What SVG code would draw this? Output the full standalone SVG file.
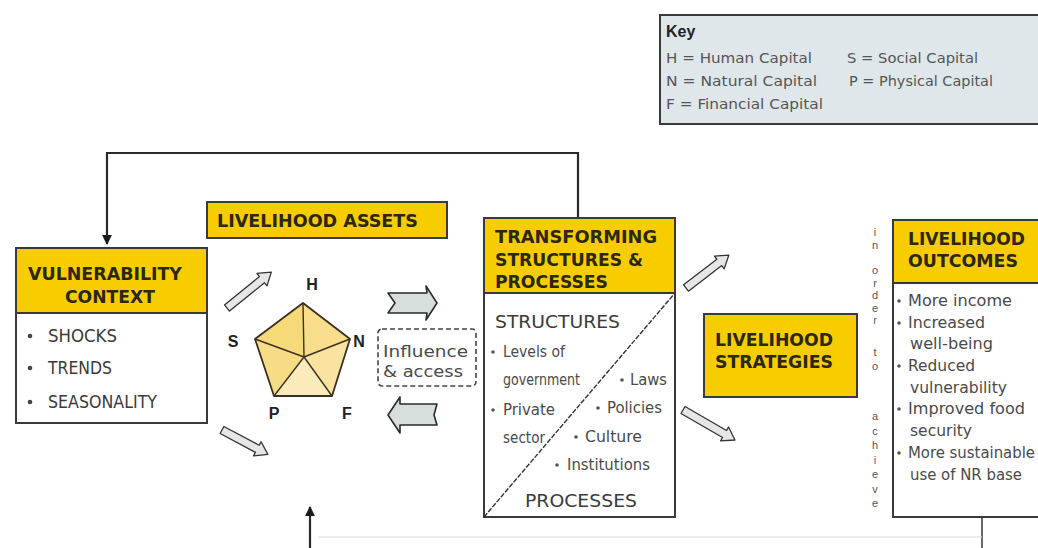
<svg xmlns="http://www.w3.org/2000/svg" width="1038" height="548" viewBox="0 0 1038 548">
<defs>
<style>
.box{fill:#fff;stroke:#3a3a3a;stroke-width:2}
.hdr{fill:#f8cd00;stroke:#3a3a3a;stroke-width:2}
.ht{font-family:"Liberation Sans Narrow","DejaVu Sans Condensed","Liberation Sans",sans-serif;font-weight:bold;font-size:18px;fill:#2b2710}
.it{font-family:"Liberation Sans Narrow","DejaVu Sans Condensed","Liberation Sans",sans-serif;font-size:15px;fill:#4a4a4a}
.vc{font-family:"Liberation Sans Narrow","DejaVu Sans Condensed","Liberation Sans",sans-serif;font-size:17px;fill:#3a3a3a}
.lab{font-family:"Liberation Sans","Arial",sans-serif;font-weight:bold;font-size:16px;fill:#222}
.key{font-family:"Liberation Sans Narrow","DejaVu Sans Condensed","Liberation Sans",sans-serif;font-size:14px;fill:#555}
.vt{font-family:"Liberation Sans","Arial",sans-serif;font-size:11px;fill:#555;writing-mode:vertical-rl;text-orientation:upright}
.line{fill:none;stroke:#2a2a2a;stroke-width:2.2}
.hollow{fill:#e6e6e6;stroke:#333;stroke-width:1.3;stroke-linejoin:round}
.block{fill:#d6dfdc;stroke:#2a2a2a;stroke-width:1.6;stroke-linejoin:round}
</style>
<marker id="ah" viewBox="0 0 10 10" refX="9" refY="5" markerWidth="4.5" markerHeight="4.5" orient="auto">
<path d="M0,0 L10,5 L0,10 Z" fill="#1a1a1a"/>
</marker>
</defs>
<rect width="1038" height="548" fill="#fff"/>

<!-- Key -->
<g id="key">
<rect x="660" y="15" width="390" height="109" fill="#dfe7ea" stroke="#3a3a3a" stroke-width="2"/>
<text x="666" y="37" class="lab" font-size="18" fill="#222">Key</text>
<text x="666" y="63" class="key" textLength="146" lengthAdjust="spacingAndGlyphs">H = Human Capital</text>
<text x="666" y="86" class="key" textLength="151" lengthAdjust="spacingAndGlyphs">N = Natural Capital</text>
<text x="666" y="109" class="key" textLength="157" lengthAdjust="spacingAndGlyphs">F = Financial Capital</text>
<text x="847" y="63" class="key" textLength="131" lengthAdjust="spacingAndGlyphs">S = Social Capital</text>
<text x="849" y="86" class="key" textLength="144" lengthAdjust="spacingAndGlyphs">P = Physical Capital</text>
</g>

<!-- Connectors -->
<g id="connectors">
<polyline class="line" points="578,218 578,153 107,153 107,244" marker-end="url(#ah)"/>
<line class="line" x1="310" y1="548" x2="310" y2="507" marker-end="url(#ah)"/>
<line x1="982" y1="517" x2="982" y2="548" stroke="#444" stroke-width="1.6"/>
<line x1="318" y1="537" x2="982" y2="537" stroke="#dcdcdc" stroke-width="1.2"/>
<g transform="translate(227,308) rotate(-39)">
<path class="hollow" d="M0,-4 L45,-4 L45,-8 L57,0 L45,8 L45,4 L0,4 Z"/>
</g>
<g transform="translate(222,430) rotate(28)">
<path class="hollow" d="M0,-4 L40,-4 L40,-8 L52,0 L40,8 L40,4 L0,4 Z"/>
</g>
<g transform="translate(686,288) rotate(-37.5)">
<path class="hollow" d="M0,-4 L42,-4 L42,-8 L54,0 L42,8 L42,4 L0,4 Z"/>
</g>
<g transform="translate(683,410) rotate(30)">
<path class="hollow" d="M0,-4 L48,-4 L48,-8 L60,0 L48,8 L48,4 L0,4 Z"/>
</g>
<path class="block" d="M388,293 L427,293 L426,286 L437,303 L426,320 L427,313 L388,313 L395,303 Z"/>
<path class="block" d="M388,415 L400,397 L400,404 L437,404 L434,415 L437,425 L400,425 L400,433 Z"/>
</g>

<!-- Vulnerability context -->
<g id="vulnerability">
<rect class="box" x="16" y="248" width="191" height="175"/>
<rect class="hdr" x="16" y="248" width="191" height="65"/>
<text x="105" y="280" class="ht" font-size="19" text-anchor="middle" textLength="154" lengthAdjust="spacingAndGlyphs">VULNERABILITY</text>
<text x="110" y="303" class="ht" font-size="19" text-anchor="middle" textLength="90" lengthAdjust="spacingAndGlyphs">CONTEXT</text>
<circle cx="30" cy="336" r="2.3" fill="#444"/>
<circle cx="30" cy="368" r="2.3" fill="#444"/>
<circle cx="30" cy="402" r="2.3" fill="#444"/>
<text x="48" y="342" class="vc" textLength="69" lengthAdjust="spacingAndGlyphs">SHOCKS</text>
<text x="48" y="374" class="vc" textLength="64" lengthAdjust="spacingAndGlyphs">TRENDS</text>
<text x="48" y="408" class="vc" textLength="109" lengthAdjust="spacingAndGlyphs">SEASONALITY</text>
</g>

<!-- Livelihood assets -->
<g id="assets">
<rect class="hdr" x="207" y="202" width="240" height="36"/>
<text x="217" y="227" class="ht" font-size="21" textLength="201" lengthAdjust="spacingAndGlyphs">LIVELIHOOD ASSETS</text>
<polygon points="304,357 303,303 255,339" fill="#f6d978"/>
<polygon points="304,357 303,303 350,339" fill="#f8de8a"/>
<polygon points="304,357 350,339 332,396" fill="#f9e3a0"/>
<polygon points="304,357 332,396 274,396" fill="#fbebbb"/>
<polygon points="304,357 274,396 255,339" fill="#f7dc86"/>
<polygon points="303,303 350,339 332,396 274,396 255,339" fill="none" stroke="#3a3020" stroke-width="1.8" stroke-linejoin="round"/>
<g stroke="#3a3020" stroke-width="1.4">
<line x1="304" y1="357" x2="303" y2="303"/>
<line x1="304" y1="357" x2="350" y2="339"/>
<line x1="304" y1="357" x2="332" y2="396"/>
<line x1="304" y1="357" x2="274" y2="396"/>
<line x1="304" y1="357" x2="255" y2="339"/>
</g>
<text x="312" y="290" class="lab" text-anchor="middle">H</text>
<text x="233" y="347" class="lab" text-anchor="middle">S</text>
<text x="359" y="347" class="lab" text-anchor="middle">N</text>
<text x="274" y="419" class="lab" text-anchor="middle">P</text>
<text x="347" y="419" class="lab" text-anchor="middle">F</text>
</g>

<!-- Influence & access -->
<g id="influence">
<rect x="378" y="329" width="98" height="57" rx="4" fill="none" stroke="#444" stroke-width="1.6" stroke-dasharray="5,3"/>
<text x="383" y="357" class="it" font-size="16" textLength="85" lengthAdjust="spacingAndGlyphs">Influence</text>
<text x="383" y="377" class="it" font-size="16" textLength="80" lengthAdjust="spacingAndGlyphs">&amp; access</text>
</g>

<!-- Transforming structures -->
<g id="transforming">
<rect class="box" x="484" y="218" width="191" height="299"/>
<rect class="hdr" x="484" y="218" width="191" height="75"/>
<text x="495" y="243" class="ht" textLength="162" lengthAdjust="spacingAndGlyphs">TRANSFORMING</text>
<text x="495" y="266" class="ht" textLength="148" lengthAdjust="spacingAndGlyphs">STRUCTURES &amp;</text>
<text x="495" y="288" class="ht" textLength="113" lengthAdjust="spacingAndGlyphs">PROCESSES</text>
<line x1="484" y1="517" x2="675" y2="293" stroke="#333" stroke-width="1.4" stroke-dasharray="5,1.5"/>
<text x="495" y="328" class="vc" font-size="18" fill="#333" textLength="125" lengthAdjust="spacingAndGlyphs">STRUCTURES</text>
<text x="525" y="507" class="vc" font-size="18" fill="#333" textLength="112" lengthAdjust="spacingAndGlyphs">PROCESSES</text>
<g fill="#555">
<circle cx="493" cy="352" r="1.8"/>
<circle cx="622" cy="380" r="1.8"/>
<circle cx="493" cy="410" r="1.8"/>
<circle cx="598" cy="408" r="1.8"/>
<circle cx="576" cy="437" r="1.8"/>
<circle cx="557" cy="465" r="1.8"/>
</g>
<text x="503" y="357" class="it" textLength="62" lengthAdjust="spacingAndGlyphs">Levels of</text>
<text x="503" y="385" class="it" textLength="77" lengthAdjust="spacingAndGlyphs">government</text>
<text x="630" y="385" class="it" textLength="37" lengthAdjust="spacingAndGlyphs">Laws</text>
<text x="503" y="415" class="it" textLength="52" lengthAdjust="spacingAndGlyphs">Private</text>
<text x="607" y="413" class="it" textLength="55" lengthAdjust="spacingAndGlyphs">Policies</text>
<text x="503" y="443" class="it" textLength="42" lengthAdjust="spacingAndGlyphs">sector</text>
<text x="585" y="442" class="it" textLength="57" lengthAdjust="spacingAndGlyphs">Culture</text>
<text x="567" y="470" class="it" textLength="83" lengthAdjust="spacingAndGlyphs">Institutions</text>
</g>

<!-- Livelihood strategies -->
<g id="strategies">
<rect class="hdr" x="704" y="314" width="153" height="83"/>
<text x="715" y="346" class="ht" textLength="118" lengthAdjust="spacingAndGlyphs">LIVELIHOOD</text>
<text x="715" y="368" class="ht" textLength="118" lengthAdjust="spacingAndGlyphs">STRATEGIES</text>
</g>

<!-- in order to achieve (vertical) -->
<g id="in-order-to-achieve">
<text class="vt" x="875" y="226" letter-spacing="1">in</text>
<text class="vt" x="875" y="264" letter-spacing="0.5">order</text>
<text class="vt" x="875" y="346" letter-spacing="1.5">to</text>
<text class="vt" x="875" y="410" letter-spacing="2.5">achieve</text>
</g>

<!-- Livelihood outcomes -->
<g id="outcomes">
<rect class="box" x="893" y="220" width="160" height="297"/>
<rect class="hdr" x="893" y="220" width="160" height="63"/>
<text x="908" y="245" class="ht" textLength="117" lengthAdjust="spacingAndGlyphs">LIVELIHOOD</text>
<text x="908" y="267" class="ht" textLength="110" lengthAdjust="spacingAndGlyphs">OUTCOMES</text>
<g fill="#555">
<circle cx="899" cy="301" r="1.8"/>
<circle cx="899" cy="323" r="1.8"/>
<circle cx="899" cy="366" r="1.8"/>
<circle cx="899" cy="409" r="1.8"/>
<circle cx="899" cy="453" r="1.8"/>
</g>
<text x="908" y="306" class="it" textLength="104" lengthAdjust="spacingAndGlyphs">More income</text>
<text x="908" y="328" class="it" textLength="77" lengthAdjust="spacingAndGlyphs">Increased</text>
<text x="910" y="349" class="it" textLength="83" lengthAdjust="spacingAndGlyphs">well-being</text>
<text x="908" y="371" class="it" textLength="67" lengthAdjust="spacingAndGlyphs">Reduced</text>
<text x="910" y="393" class="it" textLength="97" lengthAdjust="spacingAndGlyphs">vulnerability</text>
<text x="908" y="414" class="it" textLength="117" lengthAdjust="spacingAndGlyphs">Improved food</text>
<text x="910" y="436" class="it" textLength="62" lengthAdjust="spacingAndGlyphs">security</text>
<text x="908" y="458" class="it" textLength="127" lengthAdjust="spacingAndGlyphs">More sustainable</text>
<text x="910" y="480" class="it" textLength="112" lengthAdjust="spacingAndGlyphs">use of NR base</text>
</g>
</svg>
